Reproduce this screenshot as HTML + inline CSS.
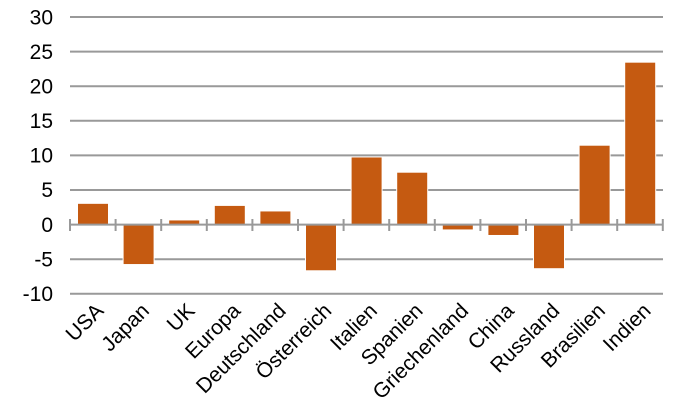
<!DOCTYPE html>
<html><head><style>body{margin:0;background:#fff}svg{display:block}</style></head>
<body>
<svg width="684" height="416" viewBox="0 0 684 416" xmlns="http://www.w3.org/2000/svg" font-family="Liberation Sans, Arial, sans-serif" font-size="21">
<g stroke="#999" stroke-width="2">
<line x1="70" x2="663" y1="17" y2="17"/><line x1="70" x2="663" y1="51.6" y2="51.6"/><line x1="70" x2="663" y1="86.2" y2="86.2"/><line x1="70" x2="663" y1="120.8" y2="120.8"/><line x1="70" x2="663" y1="155.4" y2="155.4"/><line x1="70" x2="663" y1="190" y2="190"/><line x1="70" x2="663" y1="259.2" y2="259.2"/><line x1="70" x2="663" y1="293.8" y2="293.8"/>
</g>
<g text-anchor="end" font-size="21">
<text x="53" y="24.5">30</text><text x="53" y="59">25</text><text x="53" y="93.5">20</text><text x="53" y="128">15</text><text x="53" y="162.5">10</text><text x="53" y="197">5</text><text x="53" y="232">0</text><text x="53" y="266.5">-5</text><text x="53" y="301">-10</text>
</g>
<g fill="#C55A11" stroke="#fff" stroke-width="1" id="bars"></g>
<g stroke="#999" stroke-width="2" id="axis"><line x1="70" x2="663" y1="224.6" y2="224.6"/></g>
<g id="labels" text-anchor="end" font-size="21"></g>
<script>
var v=[3,-5.7,0.6,2.7,1.9,-6.6,9.7,7.5,-0.7,-1.5,-6.3,11.4,23.4];
var n=["USA","Japan","UK","Europa","Deutschland","Österreich","Italien","Spanien","Griechenland","China","Russland","Brasilien","Indien"];
var ns="http://www.w3.org/2000/svg",s=45.6,z=224.6,k=6.92;
var b=document.getElementById("bars"),a=document.getElementById("axis"),l=document.getElementById("labels");
for(var i=0;i<13;i++){var x=70+i*s;var r=document.createElementNS(ns,"rect");var h=Math.abs(v[i])*k;
r.setAttribute("x",x+7.5);r.setAttribute("width",31);r.setAttribute("y",v[i]>0?z-h-0.5:z);r.setAttribute("height",h+0.5);b.appendChild(r);}
for(var i=0;i<=13;i++){var t=document.createElementNS(ns,"line");var x=70+i*s;t.setAttribute("x1",x);t.setAttribute("x2",x);t.setAttribute("y1",219);t.setAttribute("y2",231);a.appendChild(t);}
for(var i=0;i<13;i++){var c=70+i*s+s/2+12;var t=document.createElementNS(ns,"text");t.setAttribute("transform","translate("+c+",312) rotate(-45)");t.textContent=n[i];l.appendChild(t);}
</script>
</svg>
</body></html>
